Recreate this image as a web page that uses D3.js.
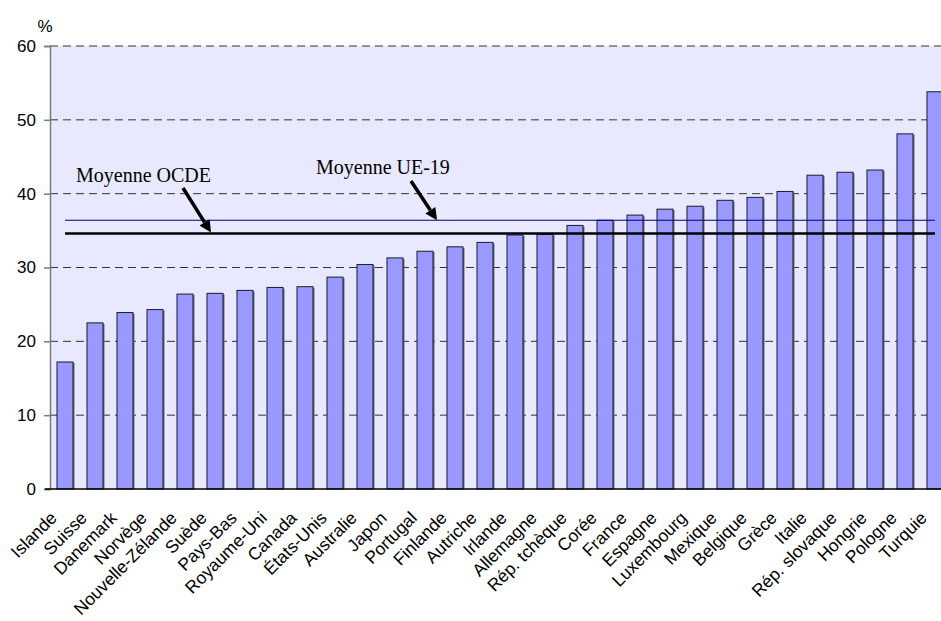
<!DOCTYPE html>
<html>
<head>
<meta charset="utf-8">
<script src="https://cdn.jsdelivr.net/npm/d3@7"></script>
<style>
  body { margin: 0; background: #fff; }
  svg { display: block; }
</style>
</head>
<body>
<svg id="chart" width="941" height="621"></svg>
<script>
const countries = ['Islande', 'Suisse', 'Danemark', 'Norvège', 'Nouvelle-Zélande', 'Suède', 'Pays-Bas',
  'Royaume-Uni', 'Canada', 'États-Unis', 'Australie', 'Japon', 'Portugal', 'Finlande', 'Autriche',
  'Irlande', 'Allemagne', 'Rép. tchèque', 'Corée', 'France', 'Espagne', 'Luxembourg', 'Mexique',
  'Belgique', 'Grèce', 'Italie', 'Rép. slovaque', 'Hongrie', 'Pologne', 'Turquie'];
const values = [17.2, 22.5, 23.9, 24.3, 26.4, 26.5, 26.9, 27.3, 27.4, 28.7, 30.4, 31.3, 32.2, 32.8, 33.4,
  34.4, 34.5, 35.7, 36.4, 37.1, 37.9, 38.3, 39.1, 39.5, 40.3, 42.5, 42.9, 43.2, 48.1, 53.8];
const yTicks = [0, 10, 20, 30, 40, 50, 60];
const avgOCDE = 34.6;
const avgUE19 = 36.4;

const conf = {
  left: 50,
  right: 950,
  top: 46,
  bottom: 489,
  font: '"Liberation Sans", Arial, sans-serif',
  serif: '"Liberation Serif", "Times New Roman", serif'
};

const svg = d3.select('#chart');

const x = d3.scaleBand()
  .domain(countries)
  .range([conf.left, conf.right])
  .paddingInner(0.467)
  .paddingOuter(0.2335);

const y = d3.scaleLinear()
  .domain([0, 60])
  .range([conf.bottom, conf.top]);

// plot background
svg.append('rect')
  .attr('x', conf.left)
  .attr('y', conf.top)
  .attr('width', conf.right - conf.left)
  .attr('height', conf.bottom - conf.top)
  .attr('fill', '#e8e8fe');

// dashed gridlines
svg.append('g')
  .selectAll('line')
  .data(yTicks.filter(d => d > 0))
  .join('line')
  .attr('x1', conf.left)
  .attr('x2', conf.right)
  .attr('y1', d => y(d))
  .attr('y2', d => y(d))
  .attr('stroke', '#333')
  .attr('stroke-width', 1)
  .attr('stroke-dasharray', '8,5');

// bars (with a soft shadow on the right like the original)
const bars = svg.append('g');
bars.selectAll('rect.shadow')
  .data(values)
  .join('rect')
  .attr('class', 'shadow')
  .attr('x', (d, i) => x(countries[i]) + 1.5)
  .attr('y', d => y(d) + 1)
  .attr('width', x.bandwidth())
  .attr('height', d => y(0) - y(d) - 1)
  .attr('fill', '#6a6a80');
bars.selectAll('rect.bar')
  .data(values)
  .join('rect')
  .attr('class', 'bar')
  .attr('x', (d, i) => x(countries[i]))
  .attr('y', d => y(d))
  .attr('width', x.bandwidth())
  .attr('height', d => y(0) - y(d))
  .attr('fill', '#9999ff')
  .attr('stroke', '#1a1a2e')
  .attr('stroke-width', 1);

// mean lines
const xStart = x(countries[0]) + x.bandwidth() / 2;
const xEnd = x(countries[countries.length - 1]) + x.bandwidth() / 2;
svg.append('line')
  .attr('x1', xStart).attr('x2', xEnd)
  .attr('y1', y(avgUE19)).attr('y2', y(avgUE19))
  .attr('stroke', '#000080')
  .attr('stroke-width', 1.2);
svg.append('line')
  .attr('x1', xStart).attr('x2', xEnd)
  .attr('y1', y(avgOCDE)).attr('y2', y(avgOCDE))
  .attr('stroke', '#000')
  .attr('stroke-width', 2.6);

// y axis
const yAxis = d3.axisLeft(y).tickValues(yTicks).tickSize(6).tickPadding(8);
const gy = svg.append('g')
  .attr('transform', `translate(${conf.left},0)`)
  .call(yAxis);
gy.select('.domain').attr('stroke', '#7a7a7a').attr('stroke-width', 1.5);
gy.selectAll('.tick line').attr('stroke', '#7a7a7a').attr('stroke-width', 1.5);
gy.selectAll('.tick text')
  .attr('font-family', conf.font)
  .attr('font-size', 17)
  .attr('fill', '#000');

// x axis baseline
svg.append('line')
  .attr('x1', conf.left - 5)
  .attr('x2', conf.right)
  .attr('y1', y(0))
  .attr('y2', y(0))
  .attr('stroke', '#000')
  .attr('stroke-width', 1.5);

// category labels, rotated
svg.append('g')
  .selectAll('text')
  .data(countries)
  .join('text')
  .attr('transform', d => `translate(${x(d) + x.bandwidth() / 2 - 7},${y(0) + 30}) rotate(-45)`)
  .attr('text-anchor', 'end')
  .attr('font-family', conf.font)
  .attr('font-size', 17.5)
  .attr('fill', '#000')
  .text(d => d);

// unit label
svg.append('text')
  .attr('x', 45)
  .attr('y', 32)
  .attr('text-anchor', 'middle')
  .attr('font-family', conf.font)
  .attr('font-size', 17)
  .text('%');

// annotations
const drawArrow = function(x1, y1, x2, y2) {
  const ang = Math.atan2(y2 - y1, x2 - x1);
  const headLen = 12;
  const headW = 6;
  const bx = x2 - headLen * Math.cos(ang);
  const by = y2 - headLen * Math.sin(ang);
  svg.append('line')
    .attr('x1', x1).attr('y1', y1)
    .attr('x2', bx).attr('y2', by)
    .attr('stroke', '#000')
    .attr('stroke-width', 3.5);
  const px = -Math.sin(ang) * headW;
  const py = Math.cos(ang) * headW;
  svg.append('path')
    .attr('d', `M${x2},${y2}L${bx + px},${by + py}L${bx - px},${by - py}Z`)
    .attr('fill', '#000');
};

svg.append('text')
  .attr('x', 76)
  .attr('y', 181.5)
  .attr('font-family', conf.serif)
  .attr('font-size', 20)
  .text('Moyenne OCDE');
drawArrow(183, 188, 211, y(avgOCDE) - 1);

svg.append('text')
  .attr('x', 316)
  .attr('y', 173.5)
  .attr('font-family', conf.serif)
  .attr('font-size', 20)
  .text('Moyenne UE-19');
drawArrow(411, 181, 437, y(avgUE19));
</script>
</body>
</html>
